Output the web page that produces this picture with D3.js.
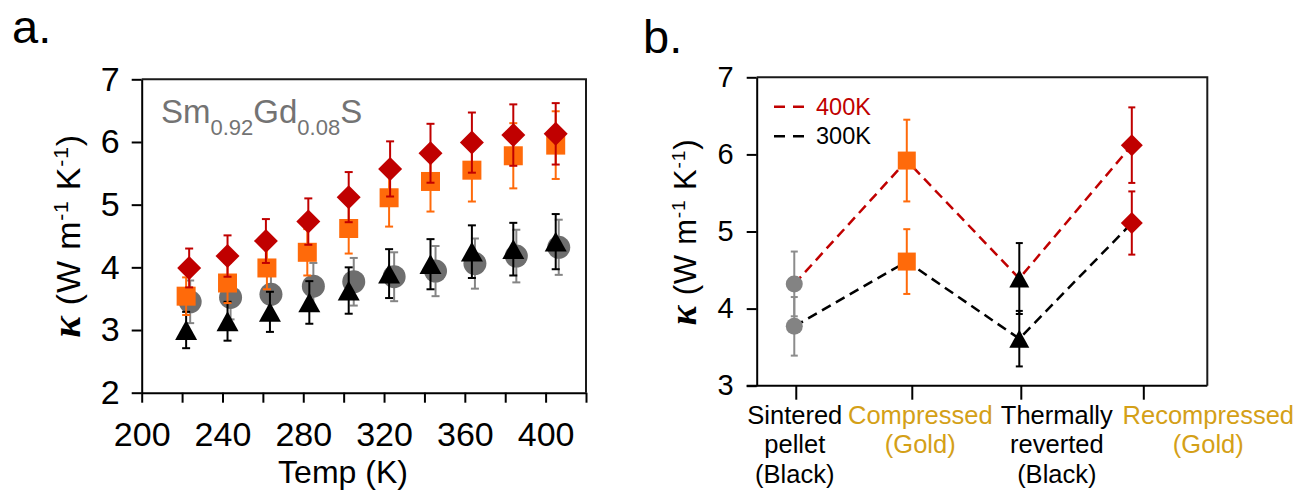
<!DOCTYPE html>
<html>
<head>
<meta charset="utf-8">
<script src="https://cdn.jsdelivr.net/npm/d3@7"></script>
<style>
  body { margin: 0; background: #fff; }
  text { font-family: "Liberation Sans", Arial, sans-serif; }
</style>
</head>
<body>
<div id="chart"></div>
<script>
//----------------------------DATA (panel a)----------------------------//
const tempSquare   = [222, 242.5, 262, 282, 302.5, 322.5, 343, 363.5, 384, 405];
const tempDiamond  = [223.5, 242.5, 261.5, 282.5, 302.5, 323, 343, 363.5, 384, 405];
const tempCircle   = [224, 244, 264, 285, 305, 325, 345.5, 365, 385.5, 406.5];
const tempTriangle = [222, 242.5, 263.5, 283, 302.5, 322.5, 343, 363.5, 384, 405];

const kDiamond  = [3.99, 4.18, 4.42, 4.73, 5.12, 5.57, 5.82, 5.99, 6.11, 6.13];
const eDiamond  = [0.31, 0.33, 0.35, 0.37, 0.40, 0.44, 0.47, 0.48, 0.49, 0.49];
const kSquare   = [3.54, 3.75, 3.99, 4.24, 4.62, 5.11, 5.37, 5.55, 5.78, 5.95];
const eSquare   = [0.30, 0.32, 0.34, 0.37, 0.40, 0.46, 0.48, 0.50, 0.52, 0.54];
const kCircle   = [3.45, 3.52, 3.57, 3.70, 3.77, 3.85, 3.94, 4.06, 4.18, 4.32];
const eCircle   = [0.34, 0.35, 0.36, 0.37, 0.38, 0.39, 0.40, 0.40, 0.42, 0.44];
const kTriangle = [3.00, 3.14, 3.29, 3.44, 3.63, 3.90, 4.05, 4.25, 4.29, 4.41];
const eTriangle = [0.29, 0.31, 0.32, 0.34, 0.37, 0.39, 0.40, 0.42, 0.42, 0.44];

const xTicksA = [200, 220, 240, 260, 280, 300, 320, 340, 360, 380, 400, 420];
const xLabelsA = [200, 240, 280, 320, 360, 400];
const yTicksA = [2, 3, 4, 5, 6, 7];

//----------------------------DATA (panel b)----------------------------//
const categories = [
  ["Sintered", "pellet", "(Black)"],
  ["Compressed", "(Gold)"],
  ["Thermally", "reverted", "(Black)"],
  ["Recompressed", "(Gold)"]
];
const shapesB = ["circle", "square", "triangle", "diamond"];
const k400 = [4.32, 5.92, 4.39, 6.12];
const e400 = [0.42, 0.53, 0.46, 0.49];
const k300 = [3.77, 4.61, 3.61, 5.11];
const e300 = [0.38, 0.42, 0.36, 0.41];
const yTicksB = [3, 4, 5, 6, 7];
const legendB = ["400K", "300K"];

//----------------------------STYLE----------------------------//
const RED = "#C00000", ORANGE = "#FF6A0A", GREY = "#6E6E6E", GOLD = "#D4A017";
const catColor = ["#000", GOLD, "#000", GOLD];
const markerColorB = ["#838383", ORANGE, "#000", RED];
const barColorB = ["#8C8C8C", ORANGE, "#000", RED];
// label centre shift and tick shift in px from the point position (hand placed in the original)
const labelShiftB = [0, 13, 37, 76];
const tickShiftB = [1.5, 5, 1.5, 11.5];

const svg = d3.select("#chart").append("svg")
  .attr("width", 1302).attr("height", 493);

//----------------------------MARKERS----------------------------//
function shapePath(shape, s) {
  if (shape === "circle") return d3.symbol(d3.symbolCircle, Math.PI * s * s)();
  if (shape === "square") return d3.symbol(d3.symbolSquare, s * s)();
  if (shape === "diamond") return "M0," + (-s) + "L" + s + ",0L0," + s + "L" + (-s) + ",0Z";
  // triangle, centred on its box
  const w = s, h = s * 0.9;
  return "M0," + (-h / 2) + "L" + (w / 2) + "," + (h / 2) + "L" + (-w / 2) + "," + (h / 2) + "Z";
}

function errorBars(g, pts, color, cap, width) {
  const eb = g.append("g").attr("stroke", color).attr("stroke-width", width);
  pts.forEach(function(p) {
    eb.append("line").attr("x1", p.x).attr("x2", p.x).attr("y1", p.y1).attr("y2", p.y2);
    eb.append("line").attr("x1", p.x - cap).attr("x2", p.x + cap).attr("y1", p.y1).attr("y2", p.y1);
    eb.append("line").attr("x1", p.x - cap).attr("x2", p.x + cap).attr("y1", p.y2).attr("y2", p.y2);
  });
}

//----------------------------PANEL A----------------------------//
const A = {left: 141.7, right: 586, top: 79.3, bottom: 392.7};
const xA = d3.scaleLinear().domain([200, 420]).range([A.left, A.right]);
const yA = d3.scaleLinear().domain([2, 7]).range([A.bottom, A.top]);

svg.append("text").attr("x", 12).attr("y", 43).attr("font-size", 47).text("a.");

const gxA = svg.append("g")
  .attr("transform", "translate(0," + A.bottom + ")")
  .call(d3.axisBottom(xA).tickValues(xTicksA).tickSize(10).tickSizeOuter(0).tickPadding(19)
    .tickFormat(function(d) { return xLabelsA.indexOf(d) >= 0 ? d : ""; }));
const gyA = svg.append("g")
  .attr("transform", "translate(" + A.left + ",0)")
  .call(d3.axisLeft(yA).tickValues(yTicksA).tickSize(10).tickSizeOuter(0).tickPadding(12)
    .tickFormat(d3.format("d")));
[gxA, gyA].forEach(function(g) {
  g.selectAll("path, line").attr("stroke", "#000").attr("stroke-width", 2);
  g.selectAll("text").attr("font-size", 34).attr("fill", "#000")
    .style("font-family", "Liberation Sans, Arial, sans-serif");
});
svg.append("path")
  .attr("d", "M" + A.left + "," + A.top + "H" + A.right + "V" + A.bottom)
  .attr("fill", "none").attr("stroke", "#1a1a1a").attr("stroke-width", 2);

svg.append("text").attr("x", 343).attr("y", 483).attr("text-anchor", "middle")
  .attr("font-size", 32).text("Temp (K)");

function yLabel(x, y, fs) {
  const t = svg.append("text").attr("text-anchor", "middle")
    .attr("transform", "translate(" + x + "," + y + ") rotate(-90)")
    .attr("font-size", fs).attr("letter-spacing", 0.8);
  t.append("tspan").attr("font-family", "Liberation Serif, serif").attr("font-weight", "bold")
    .attr("font-style", "italic").attr("font-size", fs * 1.2).text("κ");
  t.append("tspan").text(" (W m");
  t.append("tspan").attr("font-size", fs * 0.62).attr("dy", -fs * 0.36).text("-1");
  t.append("tspan").attr("dy", fs * 0.36).text(" K");
  t.append("tspan").attr("font-size", fs * 0.62).attr("dy", -fs * 0.36).text("-1");
  t.append("tspan").attr("dy", fs * 0.36).text(")");
}
yLabel(80, 236, 34);

// compound label
const comp = svg.append("text").attr("x", 161).attr("y", 122.5).attr("fill", "#737373").attr("font-size", 33);
comp.append("tspan").text("Sm");
comp.append("tspan").attr("font-size", 22).attr("dy", 12).text("0.92");
comp.append("tspan").attr("dy", -12).text("Gd");
comp.append("tspan").attr("font-size", 22).attr("dy", 12).text("0.08");
comp.append("tspan").attr("dy", -12).text("S");

const seriesA = [
  {t: tempCircle, k: kCircle, e: eCircle, shape: "circle", size: 11.5, fill: GREY, bar: "#858585"},
  {t: tempTriangle, k: kTriangle, e: eTriangle, shape: "triangle", size: 22, fill: "#000", bar: "#000"},
  {t: tempSquare, k: kSquare, e: eSquare, shape: "square", size: 19, fill: ORANGE, bar: ORANGE},
  {t: tempDiamond, k: kDiamond, e: eDiamond, shape: "diamond", size: 12, fill: RED, bar: RED}
];
seriesA.forEach(function(s) {
  const g = svg.append("g");
  const pts = s.t.map(function(t, i) {
    return {x: xA(t), y: yA(s.k[i]), y1: yA(s.k[i] + s.e[i]), y2: yA(s.k[i] - s.e[i])};
  });
  errorBars(g, pts, s.bar, 4, 2);
  g.selectAll("path.m").data(pts).enter().append("path")
    .attr("class", "m")
    .attr("transform", function(d) { return "translate(" + d.x + "," + d.y + ")"; })
    .attr("d", shapePath(s.shape, s.size))
    .attr("fill", s.fill);
});

//----------------------------PANEL B----------------------------//
const B = {left: 756.7, right: 1207.3, top: 77.3, bottom: 385.7};
const xB = d3.scaleLinear().domain([-0.334, 3.671]).range([B.left, B.right]);
const yB = d3.scaleLinear().domain([3, 7]).range([B.bottom, B.top]);

svg.append("text").attr("x", 643).attr("y", 53).attr("font-size", 47).text("b.");

const gxB = svg.append("g")
  .attr("transform", "translate(0," + B.bottom + ")")
  .call(d3.axisBottom(xB).tickValues(d3.range(categories.length)).tickSize(14).tickSizeOuter(0)
    .tickFormat(""));
const gyB = svg.append("g")
  .attr("transform", "translate(" + B.left + ",0)")
  .call(d3.axisLeft(yB).tickValues(yTicksB).tickSize(10).tickSizeOuter(0).tickPadding(13)
    .tickFormat(d3.format("d")));
[gxB, gyB].forEach(function(g) {
  g.selectAll("path, line").attr("stroke", "#000").attr("stroke-width", 2);
  g.selectAll("text").attr("font-size", 29).attr("fill", "#000")
    .style("font-family", "Liberation Sans, Arial, sans-serif");
});
gxB.select(".domain").attr("d", "M" + (B.left - 10) + ",0H" + B.right);
gxB.selectAll(".tick line").attr("x1", function(d) { return tickShiftB[d]; })
  .attr("x2", function(d) { return tickShiftB[d]; });
gxB.selectAll(".tick").each(function(d) {
  const t = d3.select(this).append("text")
    .attr("text-anchor", "middle").attr("font-size", 25.5)
    .attr("fill", catColor[d]).style("font-family", "Liberation Sans, Arial, sans-serif");
  categories[d].forEach(function(line, j) {
    t.append("tspan").attr("x", labelShiftB[d]).attr("y", 38.6 + j * 29.2).text(line);
  });
});
svg.append("path")
  .attr("d", "M" + B.left + "," + B.top + "H" + B.right + "V" + B.bottom)
  .attr("fill", "none").attr("stroke", "#1a1a1a").attr("stroke-width", 2);

yLabel(696, 232, 31);

// dashed lines
const lineB = d3.line().x(function(d, i) { return xB(i); }).y(function(d) { return yB(d); });
[[k400, RED], [k300, "#000"]].forEach(function(s) {
  svg.append("path").attr("d", lineB(s[0]))
    .attr("fill", "none").attr("stroke", s[1]).attr("stroke-width", 2.5)
    .attr("stroke-dasharray", "10,6");
});

// legend
legendB.forEach(function(name, i) {
  const col = i === 0 ? RED : "#000";
  const ly = 106.7 + i * 29.5;
  svg.append("line").attr("x1", 774).attr("x2", 807).attr("y1", ly).attr("y2", ly)
    .attr("stroke", col).attr("stroke-width", 2.5).attr("stroke-dasharray", "11,8");
  svg.append("text").attr("x", 816).attr("y", ly + 8).attr("font-size", 23.5)
    .attr("fill", col).text(name);
});

// markers
const sizeB = {circle: 8.5, square: 18, triangle: 20, diamond: 11};
[[k400, e400], [k300, e300]].forEach(function(s) {
  s[0].forEach(function(v, i) {
    const g = svg.append("g");
    const p = {x: xB(i), y: yB(v), y1: yB(v + s[1][i]), y2: yB(v - s[1][i])};
    errorBars(g, [p], barColorB[i], 3.5, 2);
    g.append("path")
      .attr("transform", "translate(" + p.x + "," + p.y + ")")
      .attr("d", shapePath(shapesB[i], sizeB[shapesB[i]]))
      .attr("fill", markerColorB[i]);
  });
});
</script>
</body>
</html>
